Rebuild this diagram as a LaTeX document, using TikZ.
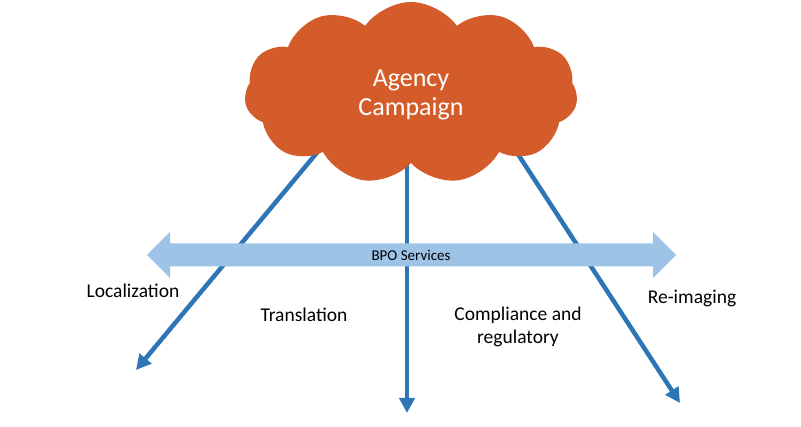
\documentclass[tikz,border=0pt]{standalone}
\usepackage{fontspec}
\setmainfont{Carlito}
\usetikzlibrary{shapes.symbols,arrows.meta}
\definecolor{cloudorange}{HTML}{D35C2A}
\definecolor{lineblue}{HTML}{2E75B6}
\definecolor{bpoblue}{HTML}{9DC3E6}
\tikzset{
  conn/.style={draw=lineblue,line width=4.5pt,-{Triangle[length=15pt,width=15pt]}},
  lbl/.style={font=\fontsize{19.5}{23}\selectfont,text=black,align=center,inner sep=0pt},
}
\begin{document}
\begin{tikzpicture}[x=1pt,y=-1pt]
\useasboundingbox (0,0) rectangle (801,427);
% connectors (under cloud and band)
\coordinate (ls) at (330,137);
\coordinate (le) at (136,370);
\coordinate (ms) at (407,150);
\coordinate (me) at (407,413);
\coordinate (rs) at (497,122);
\coordinate (re) at (680,403);
\draw[conn] (ls) -- (le);
\draw[conn] (ms) -- (me);
\draw[conn] (rs) -- (re);
% BPO band
\fill[bpoblue] (147,255) -- (170,232) -- (170,243.5) -- (653,243.5) -- (653,232) -- (676,255)
  -- (653,278) -- (653,266.5) -- (170,266.5) -- (170,278) -- cycle;
\node[font=\fontsize{15}{18}\selectfont,inner sep=0pt] (bpo) at (411,255) {BPO Services};
% cloud
\node[cloud,cloud puffs=11,cloud puff arc=110,aspect=2.3,fill=cloudorange,draw=none,
  minimum width=333pt,minimum height=182pt,inner sep=0pt] (cloud) at (411,93) {};
\node[font=\fontsize{26}{29}\selectfont,text=white,align=center,inner sep=0pt] (ctext) at (411,95) {Agency\\Campaign};
% labels
\node[lbl] (loc) at (133,291) {Localization};
\node[lbl] (tra) at (304,315) {Translation};
\node[lbl] (com) at (518,327) {Compliance and\\regulatory};
\node[lbl] (rei) at (692,298) {Re-imaging};
\end{tikzpicture}
\end{document}
